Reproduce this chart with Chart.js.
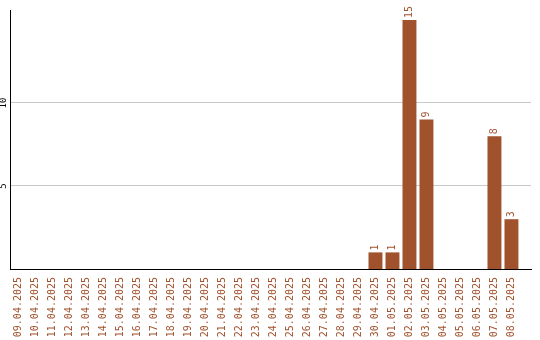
<!DOCTYPE html>
<html>
<head>
<meta charset="utf-8">
<script src="https://cdn.jsdelivr.net/npm/chart.js@4"></script>
<style>
  html, body { margin: 0; padding: 0; background: #fff; }
  #wrap { width: 540px; height: 340px; }
</style>
</head>
<body>
<div id="wrap"><canvas id="barChart" width="540" height="340"></canvas></div>
<script>
// dates on the x axis
const days = [
  "09.04.2025", "10.04.2025", "11.04.2025", "12.04.2025", "13.04.2025",
  "14.04.2025", "15.04.2025", "16.04.2025", "17.04.2025", "18.04.2025",
  "19.04.2025", "20.04.2025", "21.04.2025", "22.04.2025", "23.04.2025",
  "24.04.2025", "25.04.2025", "26.04.2025", "27.04.2025", "28.04.2025",
  "29.04.2025", "30.04.2025", "01.05.2025", "02.05.2025", "03.05.2025",
  "04.05.2025", "05.05.2025", "06.05.2025", "07.05.2025", "08.05.2025"
];
// count per day
const counts = [
  0, 0, 0, 0, 0, 0, 0, 0, 0, 0,
  0, 0, 0, 0, 0, 0, 0, 0, 0, 0,
  0, 1, 1, 15, 9, 0, 0, 0, 8, 3
];
// y ticks shown
const yTicks = [5, 10];

const brown = "#a0522d";
const monoFont = "'DejaVu Sans Mono', monospace";

// draws the rotated value labels and the y tick labels
const labelPlugin = {
  id: "labelPlugin",
  afterDatasetsDraw(chart) {
    const ctx = chart.ctx;
    const meta = chart.getDatasetMeta(0);
    ctx.save();
    ctx.font = "10px " + monoFont;
    ctx.fillStyle = brown;
    ctx.textAlign = "left";
    ctx.textBaseline = "middle";
    meta.data.forEach(function (bar, i) {
      if (!counts[i]) return;
      ctx.save();
      ctx.translate(bar.x, bar.y - 2);
      ctx.rotate(-Math.PI / 2);
      ctx.fillText(String(counts[i]), 0, 0);
      ctx.restore();
    });

    const y = chart.scales.y;
    ctx.fillStyle = "#000";
    ctx.textAlign = "center";
    ctx.font = "9px " + monoFont;
    yTicks.forEach(function (v) {
      ctx.save();
      ctx.translate(3.5, y.getPixelForValue(v));
      ctx.rotate(-Math.PI / 2);
      ctx.fillText(String(v), 0, 0);
      ctx.restore();
    });
    ctx.restore();
  }
};

new Chart(document.getElementById("barChart").getContext("2d"), {
  type: "bar",
  data: {
    labels: days,
    datasets: [
      {
        data: counts,
        backgroundColor: brown,
        borderWidth: 0,
        barPercentage: 0.82,
        categoryPercentage: 1.0,
      },
    ],
  },
  options: {
    responsive: false,
    animation: false,
    layout: {
      padding: { top: 10, right: 9, left: 0, bottom: 0 },
    },
    plugins: {
      legend: { display: false },
      tooltip: { enabled: false },
    },
    scales: {
      x: {
        grid: { display: false },
        border: { color: "#000", width: 1 },
        ticks: {
          color: brown,
          font: { family: monoFont, size: 10 },
          minRotation: 90,
          maxRotation: 90,
          autoSkip: false,
          padding: 0,
        },
        afterBuildTicks: function (scale) {
          // leave a little empty space to the right of the last day
          scale._valueRange = 30.65;
        },
        afterFit: function (scale) {
          scale.height = 71;
        },
      },
      y: {
        min: 0,
        max: 15.6,
        border: { color: "#000", width: 1 },
        grid: { color: "#c8c8c8", drawTicks: false },
        ticks: { display: false },
        afterBuildTicks: function (scale) {
          scale.ticks = yTicks.map((v) => ({ value: v }));
        },
        afterFit: function (scale) {
          scale.width = 10;
        },
      },
    },
  },
  plugins: [labelPlugin],
});
</script>
</body>
</html>
